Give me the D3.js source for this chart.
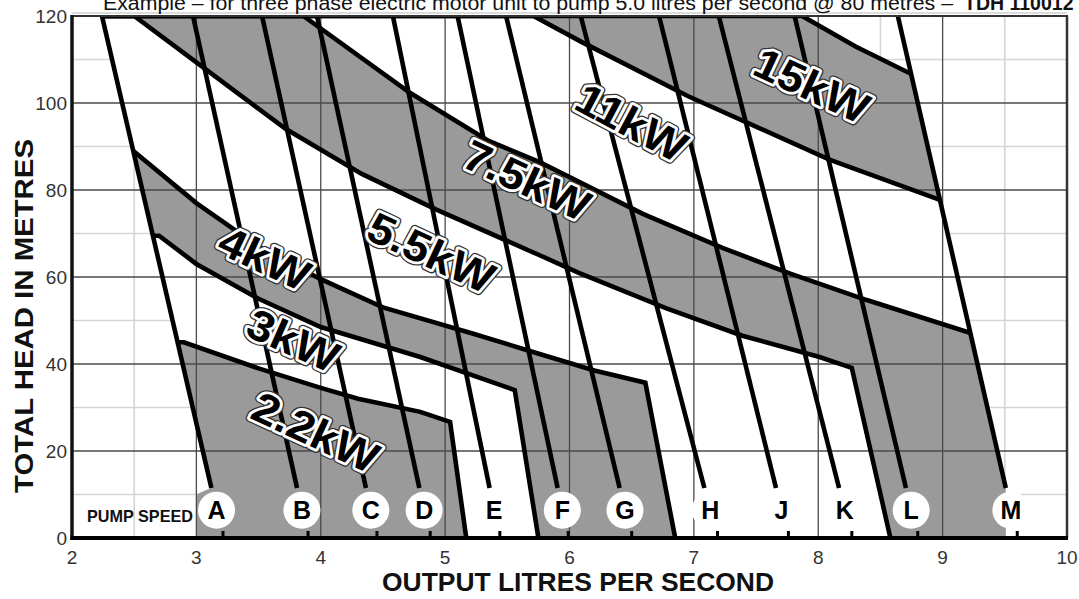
<!DOCTYPE html>
<html><head><meta charset="utf-8">
<script src="https://cdn.jsdelivr.net/npm/d3@7"></script>
<style>body{margin:0;background:#fff}svg{display:block}</style>
</head><body><svg id="c" width="1079" height="599"></svg>
<script>
// ---------- data ----------
const xTicks = [2,3,4,5,6,7,8,9,10];
const yTicks = [0,20,40,60,80,100,120];
const xMajor = [3,4,5,6,7,8,9];
const yMajor = [20,40,60,80,100];
const xMinor = [2.5,3.5,4.5,5.5,6.5,7.5,8.5,9.5];
const yMinor = [10,30,50,70,90,110];

const pumpNames = ["A","B","C","D","E","F","G","H","J","K","L","M"];
const pumpTopX  = [2.241,2.973,3.528,3.97,4.58,5.10,5.49,6.09,6.72,7.20,7.81,8.64]; // flow where curve meets 120 m
const pumpZeroX = [3.214,3.898,4.452,4.88,5.44,5.99,6.50,7.19,7.76,8.27,8.80,9.60]; // flow mark on 0 m axis
const pumpEndHead = 11.5;
const pumpCircleHead = 6.4;

// power limit boundaries (upper edge of each band), [flow, head]
const b2_2 = [[1.5,45],[2.9,45],[3.5,39],[4.0,34.5],[4.3,32],[4.8,29],[5.04,26.7],[5.17,0]];
const b3   = [[1.5,69.5],[2.7,69.5],[3.0,63],[3.5,55],[4.0,48.5],[4.8,41.6],[5.56,34],[5.75,0]];
const b4   = [[1.5,90],[2.45,90],[3.0,77],[3.5,67],[4.0,59.5],[4.5,53],[5.22,47],[5.76,42.3],[6.2,38.5],[6.61,35.7],[6.85,0]];
const b5_5 = [[1.5,120],[2.5,120],[3.03,108.7],[3.72,94],[4.33,83.7],[4.93,75.5],[5.76,65],[6.07,61],[6.78,52.8],[7.39,46.5],[8.01,41.6],[8.27,39.1],[8.58,0]];
const b7_5 = [[1.5,120],[3.86,120],[4.72,102.3],[5.35,91.3],[5.76,86.4],[6.59,74.5],[7.23,66.7],[7.78,60.7],[8.39,54.7],[9.25,46.9],[9.45,45.2],[10.5,45.2]];
const b11  = [[1.5,120],[5.71,120],[6.1,114],[6.95,101.6],[8.09,87],[9.0,77.5],[9.3,74.5],[10.5,74.5]];
const b15  = [[1.5,120],[7.87,120],[8.3,113],[8.76,106.5],[9.0,104],[10.5,104]];

const bandFills = ["#9a9a9a","#ffffff","#9a9a9a","#ffffff","#9a9a9a","#ffffff","#9a9a9a"]; // 2.2 .. 15
const powerNames = ["2.2kW","3kW","4kW","5.5kW","7.5kW","11kW","15kW"];
const labelX = [3.96,3.78,3.55,4.89,5.66,6.50,7.95];
const labelY = [24.4,45.5,64.4,65.7,82.3,95.6,104.1];
const labelAngle = [25,24,25,25,25,28,25];

// ---------- drawing ----------
const svg = d3.select("#c");
const x = d3.scaleLinear().domain([2,10]).range([72,1067]);
const y = d3.scaleLinear().domain([0,120]).range([538,16]);
const line = d3.line().x(d=>x(d[0])).y(d=>y(d[1]));
const font = "'Liberation Sans', Arial, Helvetica, sans-serif";

// region inside the pump range (A .. M)
const ia = 0, im = pumpNames.length-1;
const atHead = (i,h)=> pumpZeroX[i] - (pumpZeroX[i]-pumpTopX[i])*h/120;
const region = [[pumpTopX[ia],120],[atHead(ia,pumpEndHead),pumpEndHead],[3.0,pumpEndHead-1.5],[3.0,0],
                [atHead(im,pumpEndHead),0],[atHead(im,pumpEndHead),pumpEndHead],[pumpTopX[im],120]];
svg.append("defs").append("clipPath").attr("id","R").append("path").attr("d", line(region)+"Z");

// minor grid
const grid = svg.append("g");
grid.selectAll(".vx").data(xMinor).join("line")
  .attr("x1",d=>x(d)).attr("x2",d=>x(d)).attr("y1",y(120)).attr("y2",y(0))
  .attr("stroke","#d6d6d6").attr("stroke-width",1.6);
grid.selectAll(".hy").data(yMinor).join("line")
  .attr("x1",x(2)).attr("x2",x(10)).attr("y1",d=>y(d)).attr("y2",d=>y(d))
  .attr("stroke","#d6d6d6").attr("stroke-width",1.6);

// band fills, painted from the top band down
const bounds = [b2_2,b3,b4,b5_5,b7_5,b11,b15];
const fills = svg.append("g").attr("clip-path","url(#R)");
for (let k = bounds.length-1; k >= 0; k--) {
  const b = bounds[k];
  const last = b[b.length-1];
  const poly = b.concat([[last[0],-2],[1.5,-2]]);
  fills.append("path").attr("d", line(poly)+"Z").attr("fill", bandFills[k]);
}

// major grid
const mg = svg.append("g");
mg.selectAll(".mx").data(xMajor).join("line")
  .attr("x1",d=>x(d)).attr("x2",d=>x(d)).attr("y1",y(120)).attr("y2",y(0))
  .attr("stroke","#4a4a4a").attr("stroke-width",1.3);
mg.selectAll(".my").data(yMajor).join("line")
  .attr("x1",x(2)).attr("x2",x(10)).attr("y1",d=>y(d)).attr("y2",d=>y(d))
  .attr("stroke","#4a4a4a").attr("stroke-width",1.3);

// boundary strokes
const bs = svg.append("g").attr("clip-path","url(#R)");
bounds.forEach(b=>{
  bs.append("path").attr("d", line(b)).attr("fill","none")
    .attr("stroke","#000").attr("stroke-width",4.6).attr("stroke-linejoin","miter");
});

// pump speed curves
const pl = svg.append("g");
pumpNames.forEach((n,i)=>{
  pl.append("path").attr("d", line([[pumpTopX[i],120],[atHead(i,pumpEndHead),pumpEndHead]]))
    .attr("fill","none").attr("stroke","#000").attr("stroke-width",4.6);
});

// frame
svg.append("line").attr("x1",x(2)).attr("x2",x(10)).attr("y1",y(120)-3).attr("y2",y(120)-3).attr("stroke","#dcdcdc").attr("stroke-width",2);
svg.append("line").attr("x1",x(2)).attr("x2",x(10)+1).attr("y1",y(120)).attr("y2",y(120)).attr("stroke","#333").attr("stroke-width",2.2);
svg.append("line").attr("x1",x(10)).attr("x2",x(10)).attr("y1",y(120)).attr("y2",y(0)).attr("stroke","#333").attr("stroke-width",2.5);
svg.append("line").attr("x1",x(2)).attr("x2",x(2)).attr("y1",y(120)-1).attr("y2",y(0)+2).attr("stroke","#111").attr("stroke-width",3.5);
svg.append("line").attr("x1",x(2)-1.5).attr("x2",x(10)+1).attr("y1",y(0)).attr("y2",y(0)).attr("stroke","#000").attr("stroke-width",4);

// pump marks on axis, circles and letters
const pg = svg.append("g");
pumpNames.forEach((n,i)=>{
  pg.append("rect").attr("x",x(pumpZeroX[i])-1.5).attr("y",y(0)-7).attr("width",3).attr("height",6).attr("fill","#000");
  const cx = x(atHead(i,pumpCircleHead)), cy = y(pumpCircleHead);
  pg.append("circle").attr("cx",cx).attr("cy",cy).attr("r",18.5).attr("fill","#fff");
  pg.append("text").attr("x",cx).attr("y",cy).attr("dy","0.36em").attr("text-anchor","middle")
    .attr("font-family",font).attr("font-weight","bold").attr("font-size",25).attr("fill","#000").text(n);
});
svg.append("text").attr("x",87).attr("y",522).attr("font-family",font).attr("font-weight","bold")
  .attr("font-size",17).attr("textLength",106).attr("lengthAdjust","spacingAndGlyphs").attr("fill","#111").text("PUMP SPEED");

// kW labels
powerNames.forEach((n,i)=>{
  const g = svg.append("g").attr("transform",`translate(${x(labelX[i])},${y(labelY[i])}) rotate(${labelAngle[i]}) scale(1.08,1)`);
  const t = (sel)=>sel.attr("text-anchor","middle").attr("dy","0.36em").attr("font-family",font)
      .attr("font-weight","bold").attr("font-size",43).attr("stroke-linejoin","round").text(n);
  t(g.append("text")).attr("fill","none").attr("stroke","#333").attr("stroke-width",8);
  t(g.append("text")).attr("fill","none").attr("stroke","#fff").attr("stroke-width",5.5);
  t(g.append("text")).attr("fill","#000");
});

// tick labels
svg.selectAll(".yl").data(yTicks).join("text")
  .attr("x",67).attr("y",d=>y(d)).attr("dy","0.36em").attr("text-anchor","end")
  .attr("font-family",font).attr("font-size",19).attr("fill","#333").text(d=>d);
svg.selectAll(".xl").data(xTicks).join("text")
  .attr("x",d=>x(d)).attr("y",564).attr("text-anchor","middle")
  .attr("font-family",font).attr("font-size",19).attr("fill","#333").text(d=>d);

// axis titles
svg.append("text").attr("transform","translate(24,316) rotate(-90)").attr("text-anchor","middle").attr("dy","0.36em")
  .attr("font-family",font).attr("font-weight","bold").attr("font-size",26).attr("fill","#111")
  .attr("textLength",354).attr("lengthAdjust","spacingAndGlyphs").text("TOTAL HEAD IN METRES");
svg.append("text").attr("x",578).attr("y",591).attr("text-anchor","middle")
  .attr("font-family",font).attr("font-weight","bold").attr("font-size",26).attr("fill","#111")
  .attr("textLength",392).attr("lengthAdjust","spacingAndGlyphs").text("OUTPUT LITRES PER SECOND");

// header (cut off at top of picture, as in the source)
svg.append("text").attr("x",103).attr("y",9.5).attr("font-family",font).attr("font-size",19.5).attr("fill","#111")
  .attr("textLength",850).attr("lengthAdjust","spacingAndGlyphs")
  .text("Example – for three phase electric motor unit to pump 5.0 litres per second @ 80 metres –");
svg.append("text").attr("x",964).attr("y",9.5).attr("font-family",font).attr("font-size",19.5).attr("font-weight","bold").attr("fill","#111")
  .text("TDH 110012");
</script></body></html>
